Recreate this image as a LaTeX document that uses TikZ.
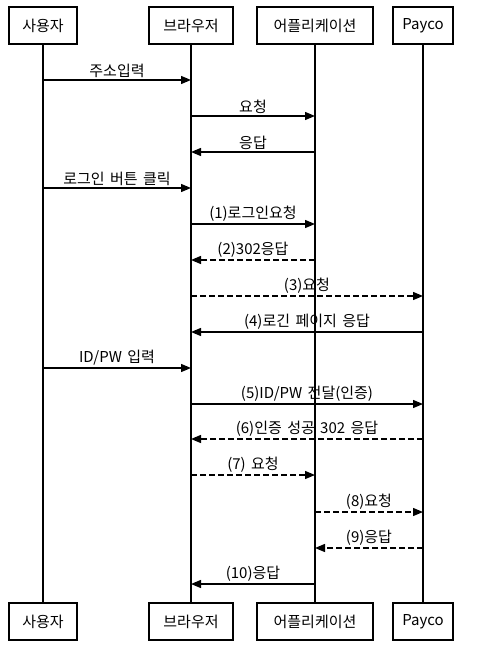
\documentclass[tikz,border=0pt]{standalone}
\usepackage{fontspec}
\setmainfont{Noto Sans CJK KR}[WordSpace=1.6]
\usetikzlibrary{arrows.meta}

\tikzset{
  actor/.style={draw, line width=1.3pt, minimum height=37pt, inner sep=0pt, font=\fontsize{15pt}{18pt}\selectfont},
  msg/.style={line width=1.3pt, -{Triangle[length=10pt,width=8pt]}},
  reply/.style={msg, dash pattern=on 6pt off 3pt},
  lbl/.style={above, inner sep=2pt, font=\fontsize{15pt}{18pt}\selectfont},
}

\begin{document}
\begin{tikzpicture}[x=1pt,y=1pt,yscale=-1,xscale=1]
\useasboundingbox (0,0) rectangle (486,652);

% Actor boxes (top)
\node [actor, minimum width=68pt]  (usr) at (43,25.5)  {사용자};
\node [actor, minimum width=84pt]  (brw) at (191,25.5) {브라우저};
\node [actor, minimum width=116pt] (app) at (315,25.5) {어플리케이션};
\node [actor, minimum width=60pt]  (pay) at (423,25.5) {Payco};
% Actor boxes (bottom)
\node [actor, minimum width=68pt]  (usrB) at (43,621.5)  {사용자};
\node [actor, minimum width=84pt]  (brwB) at (191,621.5) {브라우저};
\node [actor, minimum width=116pt] (appB) at (315,621.5) {어플리케이션};
\node [actor, minimum width=60pt]  (payB) at (423,621.5) {Payco};

% Lifelines
\draw [line width=1.3pt] (usr) -- (usrB);
\draw [line width=1.3pt] (brw) -- (brwB);
\draw [line width=1.3pt] (app) -- (appB);
\draw [line width=1.3pt] (pay) -- (payB);

% Message rows
\coordinate (m1) at (0,80);
\coordinate (m2) at (0,116);
\coordinate (m3) at (0,152);
\coordinate (m4) at (0,188);
\coordinate (m5) at (0,224);
\coordinate (m6) at (0,260);
\coordinate (m7) at (0,296);
\coordinate (m8) at (0,332);
\coordinate (m9) at (0,368);
\coordinate (m10) at (0,404);
\coordinate (m11) at (0,439);
\coordinate (m12) at (0,475);
\coordinate (m13) at (0,512);
\coordinate (m14) at (0,548);
\coordinate (m15) at (0,584);

% Messages
\draw [msg]   (usr |- m1)  -- node [lbl] {주소입력} (brw |- m1);
\draw [msg]   (brw |- m2)  -- node [lbl] {요청} (app |- m2);
\draw [msg]   (app |- m3)  -- node [lbl] {응답} (brw |- m3);
\draw [msg]   (usr |- m4)  -- node [lbl] {로그인 버튼 클릭} (brw |- m4);
\draw [msg]   (brw |- m5)  -- node [lbl] {(1)로그인요청} (app |- m5);
\draw [reply] (app |- m6)  -- node [lbl] {(2)302응답} (brw |- m6);
\draw [reply] (brw |- m7)  -- node [lbl] {(3)요청} (pay |- m7);
\draw [msg]   (pay |- m8)  -- node [lbl] {(4)로긴 페이지 응답} (brw |- m8);
\draw [msg]   (usr |- m9)  -- node [lbl] {ID/PW 입력} (brw |- m9);
\draw [msg]   (brw |- m10) -- node [lbl] {(5)ID/PW 전달(인증)} (pay |- m10);
\draw [reply] (pay |- m11) -- node [lbl] {(6)인증 성공 302 응답} (brw |- m11);
\draw [reply] (brw |- m12) -- node [lbl] {(7) 요청} (app |- m12);
\draw [reply] (app |- m13) -- node [lbl] {(8)요청} (pay |- m13);
\draw [reply] (pay |- m14) -- node [lbl] {(9)응답} (app |- m14);
\draw [msg]   (app |- m15) -- node [lbl] {(10)응답} (brw |- m15);
\end{tikzpicture}
\end{document}
